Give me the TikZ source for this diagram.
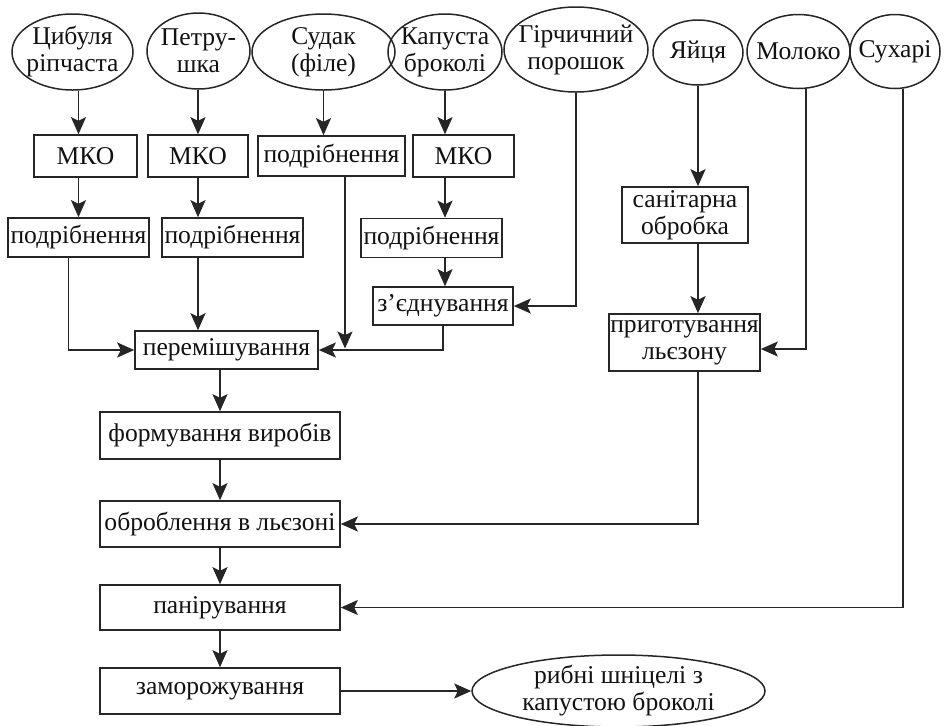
\documentclass[tikz,border=0pt]{standalone}
\usepackage{fontspec}
\setmainfont{Liberation Serif}
\usetikzlibrary{positioning,arrows.meta,calc,shapes.geometric}
\definecolor{inkLine}{HTML}{262626}
\definecolor{inkText}{HTML}{111111}

\begin{document}
\begin{tikzpicture}[x=0.5pt,y=-0.5pt,
          every node/.style={font=\fontsize{12.8pt}{13.5pt}\selectfont,
                             text=inkText,align=center},
          opbox/.style={draw=inkLine,line width=0.8pt,rectangle,inner sep=0pt},
          raw/.style={draw=inkLine,line width=0.75pt,ellipse,
                      inner xsep=-12pt,inner ysep=-6pt},
          flow/.style={draw=inkLine,line width=0.9pt,
                       -{Stealth[length=8.5pt,width=7.5pt,inset=1.8pt]}},
          bold/.style={flow,line width=1.4pt},
          feed/.style={flow,line width=0.7pt},
        ]
        \useasboundingbox (0,0) rectangle (950,725);
        % raw materials
        \node[raw,minimum width=60.5pt,minimum height=38pt] (cyb)   at (72.5,52)  {Цибуля\\ріпчаста};
        \node[raw,minimum width=51.5pt,minimum height=38pt] (petr)  at (198.5,51) {Петру-\\шка};
        \node[raw,minimum width=71.5pt,minimum height=38pt] (sudak) at (323.5,52) {Судак\\(філе)};
        \node[raw,minimum width=57pt,minimum height=38pt]   (kap)   at (445,52)   {Капуста\\броколі};
        \node[raw,minimum width=72pt,minimum height=42.5pt] (girch) at (576,49.5) {Гірчичний\\порошок};
        \node[raw,minimum width=45pt,minimum height=32.5pt] (yaj)   at (698,52.5) {Яйця};
        \node[raw,minimum width=51.5pt,minimum height=37pt] (mol)   at (798.5,51.5) {Молоко};
        \node[raw,minimum width=45pt,minimum height=37pt]   (such)  at (895,51.5) {Сухарі};

        % first operations
        \node[opbox,minimum width=51.5pt,minimum height=21pt] (mko1)  at (85.5,156)  {МКО};
        \node[opbox,minimum width=50pt,minimum height=21pt]   (mko2)  at (198,156)   {МКО};
        \node[opbox,minimum width=73.5pt,minimum height=20pt] (podr3) at (331.5,156) {подрібнення};
        \node[opbox,minimum width=50.5pt,minimum height=21pt] (mko4)  at (463.5,156) {МКО};

        \node[opbox,minimum width=70.5pt,minimum height=19.5pt] (podr1) at (78.5,237.5)  {подрібнення};
        \node[opbox,minimum width=70.5pt,minimum height=19.5pt] (podr2) at (232.5,237.5) {подрібнення};
        \node[opbox,minimum width=70.5pt,minimum height=19.5pt] (podr4) at (431.5,238)   {подрібнення};
        \node[opbox,minimum width=70pt,minimum height=19pt]     (zjed)  at (443,306)     {з’єднування};
        \node[opbox,minimum width=91.5pt,minimum height=19pt]   (perem) at (226.5,350)   {перемішування};

        % egg wash
        \node[opbox,minimum width=63pt,minimum height=28pt]   (sanit)  at (685,215)   {санітарна\\обробка};
        \node[opbox,minimum width=75.5pt,minimum height=28.5pt] (prigot) at (684.5,342.5) {приготування\\льєзону};

        % main line
        \node[opbox,minimum width=120pt,minimum height=23.5pt] (form)  at (220,435.5) {формування виробів};
        \node[opbox,minimum width=120pt,minimum height=23pt]   (obrob) at (220,524)   {оброблення в льєзоні};
        \node[opbox,minimum width=120pt,minimum height=22.5pt] (panir) at (220,607.5) {панірування};
        \node[opbox,minimum width=120pt,minimum height=23pt]   (zamor) at (220,691)   {заморожування};
        \node[raw,minimum width=146.5pt,minimum height=36pt]   (result) at (618.5,691) {рибні шніцелі з\\капустою броколі};

        % connectors, left part
        \draw[flow] (podr1 |- cyb.south) -- (podr1 |- mko1.north);
        \draw[flow] (podr1 |- mko1.south) -- (podr1.north);
        \draw[flow] ($(podr1.south)+(-10,0)$) |- (perem.west);
        \draw[flow] (mko2 |- petr.south) -- (mko2.north);
        \draw[flow] (mko2.south) -- (mko2 |- podr2.north);
        \draw[flow] (mko2 |- podr2.south) -- (mko2 |- perem.north);
        \draw[flow] (sudak.south) -- (sudak |- podr3.north);
        \coordinate (sj) at ($(podr3.south)+(13.5,0)$);
        \draw[flow] (sj) -- ($(sj |- perem.east)+(0,-1.5)$);
        \draw[flow] (kap.south) -- (kap |- mko4.north);
        \draw[flow] (kap |- mko4.south) -- (kap |- podr4.north);
        \draw[flow] (kap |- podr4.south) -- (kap |- zjed.north);
        \draw[flow] (zjed.south) |- (perem.east);
        \draw[feed] (girch.south) |- (zjed.east);

        % connectors, right part
        \draw[bold] (yaj.south) -- (yaj |- sanit.north);
        \draw[bold] (yaj |- sanit.south) -- (yaj |- prigot.north);
        \draw[feed] ($(mol.south)+(7.5,0)$) |- ($(prigot.east)+(0,6.5)$);
        \draw[flow] (yaj |- prigot.south) |- (obrob.east);
        \draw[feed] ($(such.south)+(8,0)$) |- (panir.east);

        % main line
        \draw[flow] (form |- perem.south) -- (form.north);
        \draw[flow] (form.south) -- (obrob.north);
        \draw[flow] (obrob.south) -- (panir.north);
        \draw[flow] (panir.south) -- (zamor.north);
        \draw[flow] (zamor.east) -- (result.west);
      \end{tikzpicture}
\end{document}
